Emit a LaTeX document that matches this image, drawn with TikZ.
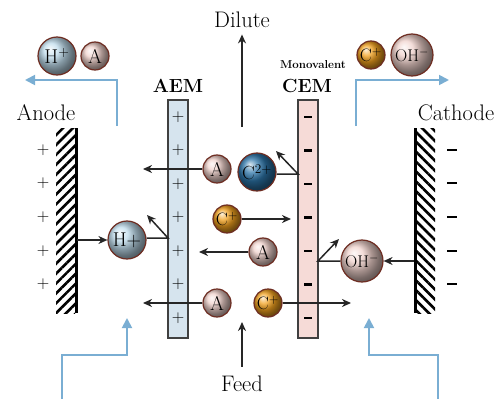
\documentclass[tikz,border=0pt]{standalone}
\usetikzlibrary{arrows.meta, patterns.meta, positioning}

\definecolor{streamblue}{HTML}{7AAED3}
\definecolor{ionrim}{HTML}{6E2D22}
\definecolor{aemblue}{HTML}{D6E4EE}
\definecolor{cempink}{HTML}{F6DBD7}
\definecolor{anionpink}{HTML}{F0D2CC}
\definecolor{protonblue}{HTML}{BFDCEC}
\definecolor{cationorange}{HTML}{F2A11E}
\definecolor{divalentblue}{HTML}{2C74A8}

\tikzset{
  ion/.style={circle, draw=ionrim, line width=1.2pt, inner sep=0pt,
    minimum size=#1, font=\fontsize{20}{20}\selectfont},
  anion/.style={ion=28pt, ball color=anionpink},
  hion/.style={ion=38pt, ball color=protonblue},
  cion/.style={ion=28pt, ball color=cationorange, font=\fontsize{18}{18}\selectfont},
  ctwoion/.style={ion=38pt, ball color=divalentblue, font=\fontsize{19}{19}\selectfont},
  ohion/.style={ion=42pt, ball color=anionpink, font=\fontsize{17}{17}\selectfont},
  flow/.style={-{Stealth[length=9pt, width=8pt]}, line width=1.5pt, black!85},
  stream/.style={-{Triangle[length=10pt, width=10pt]}, line width=1.8pt, streamblue},
  sign/.style={inner sep=0pt, font=\fontsize{19}{19}\selectfont},
  bigtext/.style={font=\fontsize{22.5}{24}\selectfont},
  membtext/.style={font=\fontsize{19}{22}\selectfont\bfseries},
}

\begin{document}
\begin{tikzpicture}[x=1pt, y=-1pt]
\useasboundingbox (0,0) rectangle (499,399);

\def\aemL{168}
\def\aemR{188}
\def\cemL{298}
\def\cemR{318}
\def\membT{100}
\def\membB{338}
\def\elecT{128}
\def\elecB{313}

% membranes
\draw[fill=aemblue, draw=black!75, line width=1.8pt] (\aemL,\membT) rectangle (\aemR,\membB);
\draw[fill=cempink, draw=black!75, line width=1.8pt] (\cemL,\membT) rectangle (\cemR,\membB);
\foreach \i/\y in {1/117,2/150.5,3/184,4/217.5,5/251,6/284.5,7/318} {
  \node[sign] (aemP\i) at (178,\y) {$+$};
  \node[sign] (cemM\i) at (308,\y) {\rule{8pt}{2.2pt}};
}

% electrodes
\fill[pattern={Lines[angle=45, distance=7pt, line width=2.6pt]}] (56,\elecT) rectangle (75,\elecB);
\draw[line width=3pt] (76,\elecT) -- (76,\elecB);
\fill[pattern={Lines[angle=-45, distance=7pt, line width=2.6pt]}] (416,\elecT) rectangle (435,\elecB);
\draw[line width=3pt] (415,\elecT) -- (415,\elecB);
\foreach \i/\y in {1/150,2/183,3/217,4/251,5/284} {
  \node[sign] (anP\i) at (43,\y) {$+$};
  \node[sign] (caM\i) at (452,\y) {\rule{10pt}{2pt}};
}

% labels
\node[bigtext] (anode) at (46,113) {Anode};
\node[bigtext] (cathode) at (456,113) {Cathode};
\node[membtext] (aem) at (178,86) {AEM};
\node[membtext] (cem) at (307,86) {CEM};
\node[font=\fontsize{11.5}{12}\selectfont\bfseries] (mono) at (313,65) {Monovalent};
\node[bigtext] (dilute) at (242,20) {Dilute};
\node[bigtext] (feed) at (242,384) {Feed};

% ions
\node[hion] (hTop) at (57,56) {H\textsuperscript{+}};
\node[anion] (aTop) at (95,56) {A};
\node[cion] (cTop) at (371,55) {C\textsuperscript{+}};
\node[ohion] (ohTop) at (412,55) {OH\textsuperscript{$-$}};
\node[anion] (aOne) at (217,169) {A};
\node[ctwoion] (cTwo) at (257,172) {C\textsuperscript{2+}};
\node[cion] (cOne) at (227,219) {C\textsuperscript{+}};
\node[hion] (hMid) at (127,240) {H+};
\node[anion] (aTwo) at (263,252) {A};
\node[ohion] (ohMid) at (362,261) {OH\textsuperscript{$-$}};
\node[anion] (aThree) at (217,303) {A};
\node[cion] (cThree) at (268,303) {C\textsuperscript{+}};

\coordinate (aOneTip) at (143,169);
\coordinate (cTwoHit) at (\cemL,174);
\coordinate (cTwoBack) at (276,151);
\coordinate (cOneTip) at (291,219);
\coordinate (anodeFace) at (77,240);
\coordinate (hHit) at (\aemL,238);
\coordinate (hBack) at (147,215);
\coordinate (aTwoTip) at (199,252);
\coordinate (cathodeFace) at (414,261);
\coordinate (ohHit) at (\cemR,261);
\coordinate (ohBack) at (339,239);
\coordinate (aThreeTip) at (143,303);
\coordinate (cThreeTip) at (351,303);
\coordinate (diluteFoot) at (242,127);
\coordinate (feedTip) at (242,322);

% ion paths
\draw[flow] (aOne) -- (aOneTip);
\draw[flow] (cTwo.east |- cTwoHit) -- (cTwoHit) -- (cTwoBack);
\draw[flow] (cOne) -- (cOneTip);
\draw[flow] (anodeFace) -- (hMid);
\draw[flow] (hMid.east |- hHit) -- (hHit) -- (hBack);
\draw[flow] (aTwo) -- (aTwoTip);
\draw[flow] (cathodeFace) -- (ohMid);
\draw[flow] (ohMid) -- (ohHit) -- (ohBack);
\draw[flow] (aThree) -- (aThreeTip);
\draw[flow] (cThree) -- (cThreeTip);
\draw[flow, shorten >=3pt] (diluteFoot) -- (dilute.south);
\draw[flow, shorten <=6pt] (feed.north) -- (feedTip);

% streams
\coordinate (lOutA) at (117,126);
\coordinate (lOutB) at (25,80);
\coordinate (rOutA) at (356,126);
\coordinate (rOutB) at (449,80);
\coordinate (lInA) at (62,399);
\coordinate (lInB) at (127,355);
\coordinate (lInC) at (127,318);
\coordinate (rInA) at (438,399);
\coordinate (rInB) at (369,355);
\coordinate (rInC) at (369,318);
\draw[stream] (lOutA) |- (lOutB);
\draw[stream] (rOutA) |- (rOutB);
\draw[stream] (lInA) |- (lInB) -- (lInC);
\draw[stream] (rInA) |- (rInB) -- (rInC);
\end{tikzpicture}
\end{document}
